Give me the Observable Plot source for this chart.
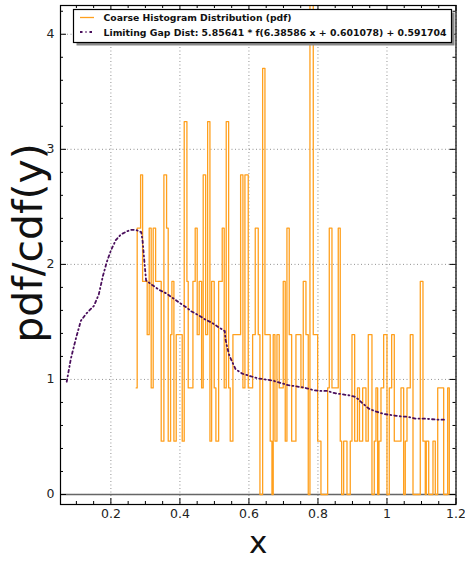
<!DOCTYPE html>
<html>
<head>
<meta charset="utf-8">
<script src="https://cdn.jsdelivr.net/npm/d3@7"></script>
<script src="https://cdn.jsdelivr.net/npm/@observablehq/plot@0.6"></script>
<style>
  html, body { margin: 0; padding: 0; background: white; }
  #chart svg { display: block; }
</style>
</head>
<body>
<div id="chart"></div>
<script>
// ---------- data ----------
// Histogram step edges (x) and pdf value starting at each edge (last = 0, closes the step)
const histEdges = [
  0.2733, 0.2762, 0.2861, 0.2919, 0.3052, 0.3110, 0.3168, 0.3226, 0.3296, 0.3458,
  0.3536, 0.3614, 0.3661, 0.3730, 0.3768, 0.3826, 0.3893, 0.4067, 0.4125, 0.4203,
  0.4241, 0.4377, 0.4443, 0.4501, 0.4559, 0.4629, 0.4675, 0.4745, 0.4803, 0.4870,
  0.4919, 0.4994, 0.5043, 0.5122, 0.5226, 0.5284, 0.5342, 0.5412, 0.5458, 0.5536,
  0.5759, 0.5826, 0.5884, 0.5980, 0.6107, 0.6183, 0.6270, 0.6319, 0.6397, 0.6464,
  0.6617, 0.6667, 0.6704, 0.6754, 0.6812, 0.6878, 0.6994, 0.7052, 0.7101, 0.7168,
  0.7238, 0.7362, 0.7507, 0.7574, 0.7652, 0.7719, 0.7768, 0.7864, 0.7991, 0.8087,
  0.8281, 0.8328, 0.8406, 0.8588, 0.8646, 0.8687, 0.8745, 0.8841, 0.8936, 0.8986,
  0.9064, 0.9145, 0.9203, 0.9296, 0.9391, 0.9458, 0.9565, 0.9632, 0.9681, 0.9730,
  0.9768, 0.9826, 0.9904, 1.0000, 1.0067, 1.0136, 1.0212, 1.0406, 1.0484, 1.0530,
  1.0580, 1.0675, 1.0754, 1.0965, 1.1043, 1.1110, 1.1139, 1.1209, 1.1333, 1.1400,
  1.1470, 1.1643, 1.1759, 1.1806
];
const histPdf = [
  0.926, 2.315, 2.778, 1.852, 1.389, 2.315, 0.926, 2.315, 1.852, 0.463,
  2.778, 2.315, 0.463, 1.389, 1.852, 0.463, 1.389, 0.463, 3.241, 1.852,
  0.926, 1.852, 2.315, 1.389, 1.852, 0.926, 2.778, 1.389, 3.241, 0.463,
  1.852, 0.926, 0.463, 1.852, 2.315, 0.926, 3.241, 0.926, 0.463, 1.389,
  2.778, 0.926, 2.778, 0.926, 1.389, 2.315, 1.389, 0, 3.704, 1.389,
  0.463, 0, 1.389, 0.463, 1.389, 0.926, 1.852, 0.463, 2.315, 1.389,
  0.463, 1.389, 0.926, 1.852, 1.389, 0, 4.63, 1.389, 0.463, 0,
  0.926, 2.315, 0.926, 2.315, 0.463, 0, 0.463, 0, 0.463, 1.389,
  0.463, 0.926, 0.463, 0.926, 0.463, 1.389, 0, 0.463, 0.926, 0,
  0.463, 0.926, 1.389, 0, 0.926, 1.389, 0.463, 0.926, 0, 0.463,
  0.926, 1.389, 0, 1.852, 0.463, 0, 0.463, 0, 0.463, 0,
  0.926, 0, 0.926, 0
];

// Limiting gap distribution curve
const limitX = [
  0.072, 0.084, 0.099, 0.113, 0.128, 0.151, 0.165, 0.177, 0.188, 0.200,
  0.214, 0.229, 0.249, 0.258, 0.272, 0.288, 0.292, 0.296, 0.302, 0.320,
  0.339, 0.359, 0.378, 0.397, 0.417, 0.434, 0.453, 0.474, 0.494, 0.514,
  0.530, 0.532, 0.537, 0.543, 0.552, 0.561, 0.581, 0.603, 0.625, 0.647,
  0.669, 0.691, 0.714, 0.736, 0.759, 0.783, 0.802, 0.826, 0.850, 0.872,
  0.894, 0.906, 0.916, 0.930, 0.948, 0.969, 0.991, 1.012, 1.037, 1.061,
  1.082, 1.104, 1.126, 1.150, 1.172
];
const limitY = [
  0.98, 1.18, 1.36, 1.51, 1.57, 1.64, 1.74, 1.90, 2.02, 2.12,
  2.21, 2.26, 2.29, 2.30, 2.30, 2.28, 2.20, 2.06, 1.86, 1.82,
  1.78, 1.75, 1.71, 1.67, 1.63, 1.59, 1.56, 1.52, 1.49, 1.45,
  1.42, 1.35, 1.28, 1.21, 1.15, 1.09, 1.05, 1.03, 1.01, 1.00,
  0.99, 0.97, 0.95, 0.94, 0.93, 0.91, 0.90, 0.90, 0.88, 0.87,
  0.86, 0.85, 0.83, 0.79, 0.745, 0.72, 0.70, 0.69, 0.68, 0.675,
  0.66, 0.66, 0.655, 0.65, 0.65
];

const xMajor = [0.2, 0.4, 0.6, 0.8, 1.0, 1.2];
const xMajorLabels = ["0.2", "0.4", "0.6", "0.8", "1", "1.2"];
const xMinor = [0.1, 0.15, 0.25, 0.3, 0.35, 0.45, 0.5, 0.55, 0.65, 0.7, 0.75, 0.85, 0.9, 0.95, 1.05, 1.1, 1.15];
const yMajor = [0, 1, 2, 3, 4];
const yMajorLabels = ["0", "1", "2", "3", "4"];
const yMinor = [0.2, 0.4, 0.6, 0.8, 1.2, 1.4, 1.6, 1.8, 2.2, 2.4, 2.6, 2.8, 3.2, 3.4, 3.6, 3.8, 4.2];

const legendLabels = [
  "Coarse Histogram Distribution (pdf)",
  "Limiting Gap Dist: 5.85641 * f(6.38586 x + 0.601078) + 0.591704"
];
const xLabel = "x";
const yLabel = "pdf/cdf(y)";

// ---------- build ----------
const hist = histEdges.map((x, i) => ({x, y: histPdf[i]}));
const limit = limitX.map((x, i) => ({x, y: limitY[i]}));

const W = 465, H = 563;
const mL = 60, mR = 9.5, mT = 5, mB = 59;
const innerW = W - mL - mR, innerH = H - mT - mB;
const orange = "#ffa01e";
const purple = "#4a0f5c";

const chart = Plot.plot({
  width: W, height: H,
  marginLeft: mL, marginRight: mR, marginTop: mT, marginBottom: mB,
  x: {domain: [0.054, 1.2], axis: null},
  y: {domain: [-0.087, 4.25], axis: null},
  style: {fontFamily: "'DejaVu Sans', sans-serif", background: "white", color: "#222"},
  marks: [
    // grid
    Plot.ruleX(xMajor, {x: d => d, stroke: "#777", strokeWidth: 0.8, strokeDasharray: "1,2.5"}),
    Plot.ruleY(yMajor, {y: d => d, stroke: "#777", strokeWidth: 0.8, strokeDasharray: "1,2.5"}),
    // zero line
    Plot.ruleY([0], {stroke: "#666", strokeWidth: 1.3}),
    // histogram
    Plot.line(hist, {x: "x", y: "y", curve: "step-after", stroke: orange, strokeWidth: 1.3, clip: true}),
    // limiting curve
    Plot.line(limit, {x: "x", y: "y", stroke: purple, strokeWidth: 1.8, strokeDasharray: "2.5,3,1,3", clip: true}),
    // ticks (inside, all four sides)
    Plot.ruleX(xMajor, {x: d => d, insetTop: innerH - 6, stroke: "black"}),
    Plot.ruleX(xMajor, {x: d => d, insetBottom: innerH - 6, stroke: "black"}),
    Plot.ruleX(xMinor, {x: d => d, insetTop: innerH - 3, stroke: "black"}),
    Plot.ruleX(xMinor, {x: d => d, insetBottom: innerH - 3, stroke: "black"}),
    Plot.ruleY(yMajor, {y: d => d, insetRight: innerW - 6, stroke: "black"}),
    Plot.ruleY(yMajor, {y: d => d, insetLeft: innerW - 6, stroke: "black"}),
    Plot.ruleY(yMinor, {y: d => d, insetRight: innerW - 3, stroke: "black"}),
    Plot.ruleY(yMinor, {y: d => d, insetLeft: innerW - 3, stroke: "black"}),
    // tick labels
    Plot.text(xMajor, {x: d => d, text: (d, i) => xMajorLabels[i], frameAnchor: "bottom", dy: 13, fontSize: 12.5, fill: "#222"}),
    Plot.text(yMajor, {y: d => d, text: (d, i) => yMajorLabels[i], frameAnchor: "left", dx: -6, textAnchor: "end", fontSize: 12.5, fill: "#222"}),
    // axis labels
    Plot.text([xLabel], {text: d => d, frameAnchor: "bottom", dy: 48, fontSize: 31, fill: "#111"}),
    Plot.text([yLabel], {text: d => d, frameAnchor: "left", textAnchor: "middle", dx: -32, dy: -12, rotate: -90, fontSize: 41, fill: "#111"}),
    // frame
    Plot.frame({stroke: "black", strokeWidth: 1.2})
  ]
});
document.getElementById("chart").appendChild(chart);

// ---------- legend (inside the axes, top) ----------
const svg = d3.select(chart);
const lg = svg.append("g").attr("font-family", "'DejaVu Sans', sans-serif").attr("text-anchor", "start");
const bx = 73.5, by = 9.5, bw = 378, bh = 33;
lg.append("rect").attr("x", bx + 3).attr("y", by + 3).attr("width", bw).attr("height", bh).attr("fill", "#8a8a8a");
lg.append("rect").attr("x", bx).attr("y", by).attr("width", bw).attr("height", bh).attr("fill", "white").attr("stroke", "black").attr("stroke-width", 1.2);
lg.append("line").attr("x1", 80).attr("x2", 94).attr("y1", 17.5).attr("y2", 17.5).attr("stroke", orange).attr("stroke-width", 1.3);
lg.append("line").attr("x1", 80).attr("x2", 94).attr("y1", 32).attr("y2", 32).attr("stroke", purple).attr("stroke-width", 1.8).attr("stroke-dasharray", "2.5,3,1,3");
lg.append("text").attr("x", 103.5).attr("y", 20.8).attr("font-size", 8.6).attr("font-weight", "bold").attr("fill", "#111").attr("text-anchor", "start")
  .attr("textLength", 188).attr("lengthAdjust", "spacingAndGlyphs").text(legendLabels[0]);
lg.append("text").attr("x", 103.5).attr("y", 35.5).attr("font-size", 8.6).attr("font-weight", "bold").attr("fill", "#111").attr("text-anchor", "start")
  .attr("textLength", 343).attr("lengthAdjust", "spacingAndGlyphs").text(legendLabels[1]);
</script>
</body>
</html>
